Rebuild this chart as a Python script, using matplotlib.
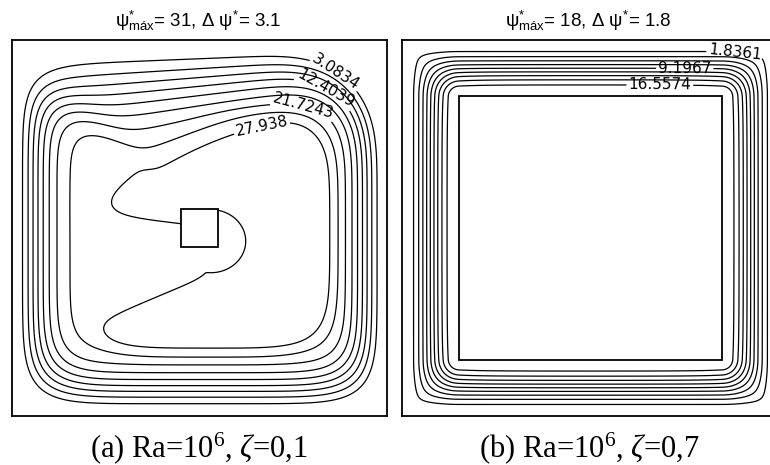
import numpy as np
import matplotlib
matplotlib.use("Agg")
import matplotlib.pyplot as plt
from matplotlib.patches import Rectangle

plt.rcParams['mathtext.fontset'] = 'custom'
plt.rcParams['mathtext.rm'] = 'Liberation Serif'
plt.rcParams['mathtext.it'] = 'Liberation Serif:italic'
plt.rcParams['mathtext.sf'] = 'Liberation Sans'

# --- datos de los dos casos ---
tags = ['a', 'b']
ra_exp = [6, 6]
zeta = [0.1, 0.7]
psi_max = [31, 18]
dpsi = [3.1, 1.8]
levels_a = [3.0834, 6.1902, 9.2970, 12.4039, 15.5107, 18.6175, 21.7243, 24.8311, 27.9380]
levels_b = [1.8361, 3.6763, 5.5164, 7.3566, 9.1967, 11.0369, 12.8771, 14.7172, 16.5574]
labels_a = [3.0834, 12.4039, 21.7243, 27.9380]
labels_b = [1.8361, 9.1967, 16.5574]

n = 401
x = np.linspace(0, 1, n)
X, Y = np.meshgrid(x, x)


def sig(z):
    return 1 / (1 + np.exp(-z))


def campo_a(pmax):
    Xp = (X - 0.5) / 0.5
    Yp = (Y - 0.5) / 0.5
    # esquina superior derecha mas redondeada que las otras
    tr = np.sqrt(np.clip(Xp, 0, 1) * np.clip(Yp, 0, 1))
    q = 7.0 - 4.0 * tr
    ax_q = np.abs(Xp) ** q
    ay_q = np.abs(Yp) ** q
    rho = (ax_q + ay_q) ** (1 / q)
    wx = ax_q / np.maximum(ax_q + ay_q, 1e-12)
    # espesor de capa limite en cada pared
    d_left, d_right = 0.18, 0.17
    d_top = 0.45 - 0.26 * X
    d_bot = 0.21
    dlt = wx * np.where(Xp < 0, d_left, d_right) + (1 - wx) * np.where(Yp > 0, d_top, d_bot)
    t = np.clip(1 - rho, 0, None) / dlt
    g = 1 - np.exp(-t ** 1.8)

    # region en C del nucleo (donde se supera el 90 %)
    r_se = (np.abs((X - 0.52) / 0.34) ** 4 + np.abs((Y - 0.49) / 0.33) ** 4) ** 0.25
    sd = 0.622 * (X - 0.26) - 0.783 * (Y - 0.56)
    S = sig((1 - r_se) / 0.04) * sig(sd / 0.03)
    # cuña baja que entra desde la izquierda hasta el bloque
    yc = 0.39 + 0.15 * (X - 0.2)
    hw = 0.17 - 0.26 * (X - 0.2)
    Mw = sig((hw - np.abs(Y - yc)) / 0.025) * sig((0.56 - X) / 0.02)
    Mb = sig((1 - np.hypot((X - 0.53) / 0.10, (Y - 0.465) / 0.09)) / 0.08)
    M = np.maximum(Mw, Mb)
    return pmax * g * (0.86 + 0.13 * S * (1 - M))


def campo_b(pmax, z):
    p = 3
    ax_ = np.clip(X, 1e-6, None)
    bx_ = np.clip(1 - X, 1e-6, None)
    ay_ = np.clip(Y, 1e-6, None)
    by_ = np.clip(1 - Y, 1e-6, None)
    dw = (ax_ ** -p + bx_ ** -p + ay_ ** -p + by_ ** -p) ** (-1 / p)
    lo, hi = 0.5 - z / 2, 0.5 + z / 2
    ex = np.maximum(np.maximum(lo - X, X - hi), 0)
    ey = np.maximum(np.maximum(lo - Y, Y - hi), 0)
    dbk = np.hypot(ex, ey)
    s = dw / (dw + dbk + 1e-12)
    return pmax * (1 - np.cos(np.pi * s)) / 2


def fmt(v):
    return f'{v:.4f}'.rstrip('0')


def isolineas(ax, Z, levels, labels, pos):
    plain = [l for l in levels if l not in labels]
    ax.contour(X, Y, Z, levels=plain, colors='k', linewidths=0.9)
    for v, p in zip(labels, pos):
        cs = ax.contour(X, Y, Z, levels=[v], colors='k', linewidths=0.9)
        ax.clabel(cs, manual=[p], inline=True, fmt=fmt,
                  fontsize=11, inline_spacing=2)


W, H = 770, 465
fig = plt.figure(figsize=(W / 100, H / 100), dpi=100)

ax_a = fig.add_axes([12 / W, (H - 416) / H, 375 / W, 376 / H])
ax_b = fig.add_axes([402 / W, (H - 416) / H, 377 / W, 376 / H])

Za = campo_a(31.07)
Zb = campo_b(18.40, zeta[1])

isolineas(ax_a, Za, levels_a, labels_a,
          [(0.867, 0.92), (0.82, 0.84), (0.77, 0.79), (0.661, 0.79)])
isolineas(ax_b, Zb, levels_b, labels_b,
          [(0.883, 0.968), (0.75, 0.93), (0.684, 0.888)])

for ax, z in zip([ax_a, ax_b], zeta):
    lo = 0.5 - z / 2
    ax.add_patch(Rectangle((lo, lo), z, z, facecolor='white', edgecolor='k',
                           linewidth=1.3, zorder=3))
    ax.set_xlim(0, 1)
    ax.set_ylim(0, 1)
    ax.set_xticks([])
    ax.set_yticks([])
    for sp in ax.spines.values():
        sp.set_linewidth(1.3)

tit_x = [198, 588]
cap_x = [199, 589]
for i in range(2):
    fig.text(tit_x[i] / W, 1 - 21 / H,
             r'$\mathsf{ψ}^{\mathsf{*}}_{\mathsf{máx}}$' + f'= {psi_max[i]}, Δ '
             + r'$\mathsf{ψ}^{\mathsf{*}}$' + f'= {dpsi[i]}',
             family='Liberation Sans', fontsize=13.5, ha='center', va='center')
    zs = f'{zeta[i]}'.replace('.', ',')
    fig.text(cap_x[i] / W, 1 - 457 / H,
             f'({tags[i]}) Ra=10$^{{{ra_exp[i]}}}$, $\\zeta$={zs}',
             family='Liberation Serif', fontsize=22, ha='center', va='baseline')

fig.savefig('out.png', dpi=100)
